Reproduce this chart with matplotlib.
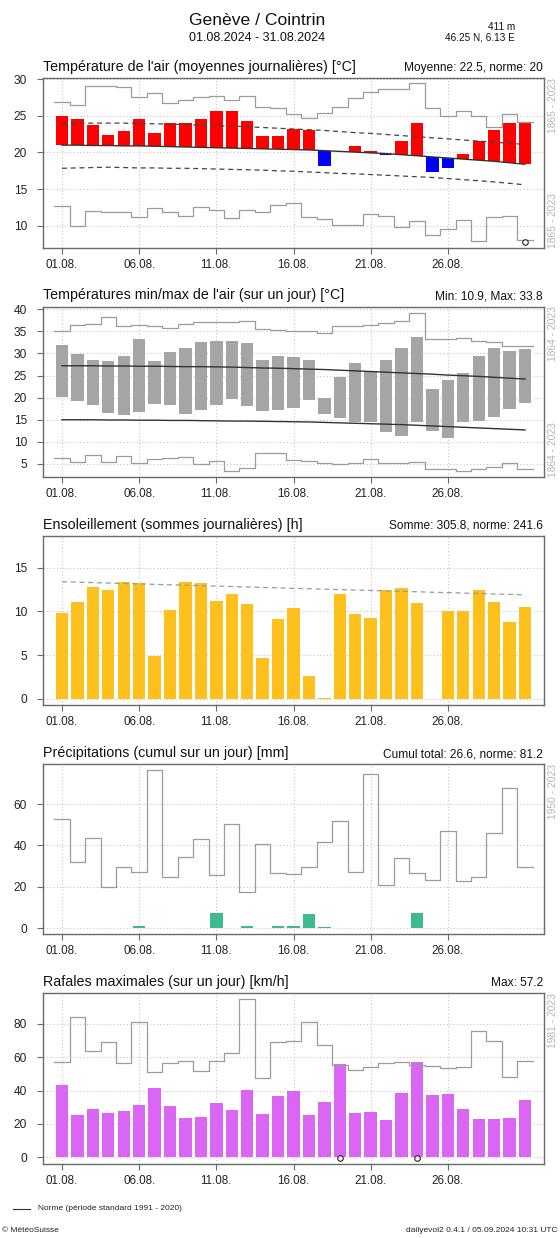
import numpy as np
import matplotlib
matplotlib.use("Agg")
import matplotlib.pyplot as plt
from matplotlib.lines import Line2D
from matplotlib.transforms import blended_transform_factory

plt.rcParams['font.family'] = ['Liberation Sans', 'DejaVu Sans']

# ---------------------------------------------------------------- data
days = np.arange(1, 32)
tick_days = [1, 6, 11, 16, 21, 26]
tick_labels = ["01.08.", "06.08.", "11.08.", "16.08.", "21.08.", "26.08."]

# daily mean air temperature [°C]
temp_mean = [24.9, 24.6, 23.7, 22.4, 22.9, 24.6, 22.7, 24.0, 24.0, 24.6, 25.7,
             25.6, 24.3, 22.2, 22.3, 23.2, 23.1, 18.1, 20.15, 20.9, 20.25, 19.6,
             21.6, 24.05, 17.3, 17.9, 19.75, 21.6, 23.1, 24.0, 24.2]
temp_norm = [21.0, 21.0, 20.95, 20.95, 20.9, 20.9, 20.85, 20.8, 20.75, 20.7, 20.65,
             20.6, 20.55, 20.5, 20.45, 20.4, 20.35, 20.25, 20.15, 20.05, 19.95, 19.85,
             19.7, 19.55, 19.4, 19.25, 19.1, 18.95, 18.8, 18.6, 18.4]
temp_norm_hi = [24.0, 24.0, 24.0, 24.0, 24.0, 23.95, 23.9, 23.85, 23.8, 23.7, 23.65,
                23.6, 23.5, 23.4, 23.3, 23.2, 23.1, 23.0, 22.85, 22.7, 22.6, 22.45,
                22.3, 22.15, 22.0, 21.85, 21.7, 21.55, 21.4, 21.25, 21.1]
temp_norm_lo = [17.85, 17.9, 17.95, 18.0, 17.95, 17.9, 17.9, 17.85, 17.85, 17.8, 17.75,
                17.7, 17.65, 17.6, 17.5, 17.45, 17.35, 17.25, 17.15, 17.1, 17.0, 16.9,
                16.8, 16.7, 16.6, 16.45, 16.3, 16.15, 16.0, 15.8, 15.6]
temp_rec_max = [26.9, 26.4, 29.0, 29.05, 28.9, 27.55, 28.15, 26.8, 27.15, 27.5, 27.7,
                27.15, 27.75, 26.25, 26.05, 25.3, 24.7, 25.4, 26.2, 27.45, 28.2, 28.6,
                28.7, 29.4, 26.0, 24.9, 25.65, 25.0, 23.5, 25.3, 24.2]
temp_rec_min = [12.7, 10.05, 12.05, 11.95, 11.85, 11.2, 12.4, 11.95, 11.35, 12.6, 12.15,
                11.15, 12.15, 11.95, 12.85, 13.1, 11.2, 10.95, 10.15, 10.15, 11.6, 11.3,
                9.9, 10.7, 8.8, 9.6, 10.8, 8.0, 11.2, 11.3, 8.1]
temp_record_days = [31]

# daily min / max air temperature [°C]
tmax = [31.9, 29.9, 28.5, 28.2, 29.3, 33.2, 28.2, 30.4, 31.3, 32.5, 32.7, 32.9, 32.3,
        28.5, 29.4, 29.1, 28.5, 19.9, 24.6, 27.9, 25.7, 28.5, 31.3, 33.8, 21.9, 23.9,
        25.5, 29.5, 31.3, 30.6, 31.0]
tmin = [20.1, 19.3, 18.4, 16.5, 16.1, 16.8, 18.6, 18.4, 16.3, 17.1, 18.4, 19.6, 18.1,
        17.0, 17.3, 17.6, 19.5, 16.2, 15.3, 14.6, 14.4, 12.3, 11.4, 14.6, 12.5, 10.9,
        14.4, 14.8, 15.7, 17.4, 18.9]
tmax_norm = [27.2, 27.2, 27.2, 27.15, 27.15, 27.1, 27.1, 27.05, 27.0, 27.0, 26.95, 26.9,
             26.8, 26.7, 26.65, 26.55, 26.45, 26.35, 26.2, 26.05, 25.9, 25.75, 25.6,
             25.45, 25.3, 25.1, 24.95, 24.8, 24.6, 24.4, 24.2]
tmin_norm = [15.0, 15.0, 15.0, 14.95, 14.95, 14.9, 14.9, 14.85, 14.85, 14.8, 14.75, 14.7,
             14.7, 14.65, 14.6, 14.55, 14.5, 14.4, 14.3, 14.2, 14.1, 14.0, 13.9, 13.75,
             13.6, 13.45, 13.3, 13.15, 13.0, 12.85, 12.7]
tmax_rec = [34.95, 36.45, 36.7, 38.2, 36.2, 36.45, 36.1, 35.7, 36.6, 37.05, 37.2, 37.0,
            37.4, 35.55, 35.3, 34.95, 34.95, 34.7, 36.2, 36.2, 36.45, 36.8, 37.4, 39.1,
            33.2, 33.2, 33.4, 32.9, 32.5, 31.7, 31.7]
tmin_rec = [6.3, 5.55, 7.05, 5.55, 6.8, 5.3, 6.05, 6.3, 6.65, 5.0, 5.75, 3.5, 4.0, 7.4,
            7.4, 5.9, 5.7, 5.3, 5.0, 5.3, 6.1, 5.3, 5.3, 5.55, 3.9, 3.9, 3.5, 3.9, 4.4,
            5.15, 3.8]

# daily sunshine duration [h]
sunshine = [9.8, 11.1, 12.8, 12.5, 13.4, 13.2, 4.95, 10.2, 13.4, 13.3, 11.2, 12.0, 10.9,
            4.65, 9.15, 10.4, 2.65, 0.1, 12.0, 9.75, 9.3, 12.5, 12.7, 11.0, 0.0, 10.0,
            10.1, 12.4, 11.05, 8.75, 10.5]
sun_norm = [13.4, 13.35, 13.3, 13.25, 13.2, 13.15, 13.1, 13.05, 13.0, 12.95, 12.9, 12.85,
            12.8, 12.75, 12.7, 12.65, 12.6, 12.55, 12.5, 12.45, 12.4, 12.35, 12.3, 12.25,
            12.2, 12.15, 12.1, 12.05, 12.0, 11.95, 11.9]

# daily precipitation [mm]
precip = [0, 0, 0, 0, 0, 0.9, 0, 0, 0, 0, 7.5, 0, 1.2, 0, 1.2, 1.2, 7.0, 0.4, 0, 0, 0,
          0, 0, 7.2, 0, 0, 0, 0, 0, 0, 0]
precip_rec = [52.8, 32.2, 43.75, 20.1, 29.75, 27.0, 76.4, 24.6, 34.25, 42.95, 25.7, 50.2,
              17.7, 40.5, 26.5, 26.1, 29.4, 41.5, 51.95, 27.3, 74.3, 20.9, 33.8, 26.5,
              23.3, 47.0, 23.0, 24.6, 46.2, 67.9, 29.4]

# daily maximum gusts [km/h]
gusts = [43.3, 25.3, 28.9, 26.5, 27.9, 31.3, 41.7, 30.5, 23.7, 24.3, 32.7, 28.5, 40.3,
         25.9, 36.8, 39.7, 25.3, 32.9, 55.9, 26.7, 26.9, 22.3, 38.5, 57.2, 37.3, 37.9,
         28.9, 22.7, 22.7, 23.3, 34.3]
gusts_rec = [57.3, 84.2, 63.6, 69.2, 56.3, 80.8, 51.3, 56.3, 57.9, 51.9, 57.7, 62.2,
             94.6, 47.3, 69.2, 69.8, 80.8, 67.2, 55.3, 52.3, 53.9, 56.7, 57.3, 55.3,
             54.7, 53.3, 54.3, 75.6, 69.6, 48.3, 57.7]
gust_record_days = [19, 24]

# ---------------------------------------------------------------- layout
W, H, DPI = 560, 1238, 100
fig = plt.figure(figsize=(W / DPI, H / DPI), dpi=DPI)
fig.patch.set_facecolor('white')

LEFT, RIGHT = 43, 544
GRID_C = '#c6c6c6'
FRAME_C = '#6a6a6a'
STEP_C = '#9c9c9c'
NORM_C = '#333333'


def fx(x):
    return x / W


def fy(y):
    return 1 - y / H


def panel(top, bottom):
    return fig.add_axes([fx(LEFT), fy(bottom), (RIGHT - LEFT) / W, (bottom - top) / H])


def style(ax, ylim, yticks):
    ax.set_xlim(-0.23, 32.23)
    ax.set_ylim(*ylim)
    ax.set_xticks(tick_days)
    ax.set_xticklabels(tick_labels)
    ax.set_yticks(yticks)
    ax.grid(True, color=GRID_C, linestyle=(0, (1, 2)), linewidth=0.8)
    ax.set_axisbelow(True)
    for s in ax.spines.values():
        s.set_color(FRAME_C)
        s.set_linewidth(1.0)
    ax.tick_params(axis='both', direction='out', length=4, width=0.8,
                   color=FRAME_C, labelcolor='#222222')
    ax.tick_params(axis='y', labelsize=8.6, pad=7.5)
    ax.tick_params(axis='x', labelsize=8.4, pad=4)


def step_line(ax, vals, **kw):
    xs = np.column_stack([days - 0.5, days + 0.5]).ravel()
    ys = np.repeat(np.asarray(vals, dtype=float), 2)
    ax.plot(xs, ys, **kw)


def header(top, title, stats):
    fig.text(fx(LEFT), fy(top - 7), title, fontsize=10.3, ha='left', va='baseline',
             color='#111111')
    fig.text(fx(RIGHT - 1), fy(top - 7), stats, fontsize=8.6, ha='right',
             va='baseline', color='#111111')


def period(top, bottom, text, where):
    if where == 'top':
        fig.text(fx(553), fy(top), text, rotation=90, ha='center', va='top',
                 fontsize=7.4, color='#b4b4b4')
    else:
        fig.text(fx(553), fy(bottom), text, rotation=90, ha='center', va='bottom',
                 fontsize=7.4, color='#b4b4b4')


def record_marks(ax, rec_days):
    tr = blended_transform_factory(ax.transData, ax.transAxes)
    ax.scatter(rec_days, [0.035] * len(rec_days), transform=tr, s=16, marker='o',
               facecolor='white', edgecolor='#222222', linewidth=0.8, clip_on=False,
               zorder=6)


BAR_W = 0.8

# ---------------------------------------------------------------- main title
fig.text(fx(257), fy(25), "Genève / Cointrin", fontsize=12.6, ha='center',
         va='baseline', color='#111111')
fig.text(fx(257), fy(41), "01.08.2024 - 31.08.2024", fontsize=9, ha='center',
         va='baseline', color='#111111')
fig.text(fx(515), fy(30), "411 m", fontsize=7.2, ha='right', va='baseline',
         color='#111111')
fig.text(fx(515), fy(40), "46.25 N, 6.13 E", fontsize=7.2, ha='right', va='baseline',
         color='#111111')

# ---------------------------------------------------------------- panel 1
t1, b1 = 78, 248
ax1 = panel(t1, b1)
style(ax1, (7.0, 30.14), [10, 15, 20, 25, 30])
tm = np.asarray(temp_mean)
tn = np.asarray(temp_norm)
cols = np.where(tm >= tn, '#ff0000', '#0000ff')
ax1.bar(days, tm - tn, bottom=tn, width=BAR_W, color=cols, zorder=2)
ax1.plot(days, temp_norm, color=NORM_C, lw=1.0, zorder=3)
ax1.plot(days, temp_norm_hi, color='#444444', lw=0.9, ls=(0, (4, 3)), zorder=3)
ax1.plot(days, temp_norm_lo, color='#444444', lw=0.9, ls=(0, (4, 3)), zorder=3)
step_line(ax1, temp_rec_max, color=STEP_C, lw=0.9, zorder=3)
step_line(ax1, temp_rec_min, color=STEP_C, lw=0.9, zorder=3)
record_marks(ax1, temp_record_days)
header(t1, "Température de l'air (moyennes journalières) [°C]",
       "Moyenne: 22.5, norme: 20")
period(t1, b1, "1865 - 2023", 'top')
period(t1, b1, "1865 - 2023", 'bottom')

# ---------------------------------------------------------------- panel 2
t2, b2 = 306.5, 477
ax2 = panel(t2, b2)
style(ax2, (2.06, 40.6), [5, 10, 15, 20, 25, 30, 35, 40])
ax2.bar(days, np.asarray(tmax) - np.asarray(tmin), bottom=tmin, width=BAR_W,
        color='#a5a5a5', zorder=2)
ax2.plot(days, tmax_norm, color=NORM_C, lw=1.0, zorder=3)
ax2.plot(days, tmin_norm, color=NORM_C, lw=1.0, zorder=3)
step_line(ax2, tmax_rec, color=STEP_C, lw=0.9, zorder=3)
step_line(ax2, tmin_rec, color=STEP_C, lw=0.9, zorder=3)
header(t2, "Températures min/max de l'air (sur un jour) [°C]", "Min: 10.9, Max: 33.8")
period(t2, b2, "1864 - 2023", 'top')
period(t2, b2, "1864 - 2023", 'bottom')

# ---------------------------------------------------------------- panel 3
t3, b3 = 535.7, 705
ax3 = panel(t3, b3)
style(ax3, (-0.69, 18.66), [0, 5, 10, 15])
ax3.bar(days, sunshine, width=BAR_W, color='#fdc01c', zorder=2)
ax3.plot(days, sun_norm, color='#9a9a9a', lw=0.9, ls=(0, (4, 3)), zorder=3)
header(t3, "Ensoleillement (sommes journalières) [h]", "Somme: 305.8, norme: 241.6")

# ---------------------------------------------------------------- panel 4
t4, b4 = 764.3, 934.3
ax4 = panel(t4, b4)
style(ax4, (-2.9, 79.2), [0, 20, 40, 60])
ax4.bar(days, precip, width=BAR_W, color='#3dba8e', zorder=2)
step_line(ax4, precip_rec, color=STEP_C, lw=0.9, zorder=3)
header(t4, "Précipitations (cumul sur un jour) [mm]", "Cumul total: 26.6, norme: 81.2")
period(t4, b4, "1950 - 2023", 'top')

# ---------------------------------------------------------------- panel 5
t5, b5 = 993.3, 1164
ax5 = panel(t5, b5)
style(ax5, (-4.0, 98.2), [0, 20, 40, 60, 80])
ax5.bar(days, gusts, width=BAR_W, color='#dc66f4', zorder=2)
step_line(ax5, gusts_rec, color=STEP_C, lw=0.9, zorder=3)
record_marks(ax5, gust_record_days)
header(t5, "Rafales maximales (sur un jour) [km/h]", "Max: 57.2")
period(t5, b5, "1981 - 2023", 'top')

# ---------------------------------------------------------------- footer
fig.add_artist(Line2D([fx(13), fx(30)], [fy(1209), fy(1209)], color='#333333', lw=0.8))
fig.text(fx(38), fy(1209), "Norme (période standard 1991 - 2020)", fontsize=6,
         ha='left', va='center', color='#222222')
fig.text(fx(2), fy(1231), "© MétéoSuisse", fontsize=6, ha='left', va='center',
         color='#222222')
fig.text(fx(558), fy(1231), "dailyevol2 0.4.1 / 05.09.2024 10:31 UTC", fontsize=6,
         ha='right', va='center', color='#222222')

fig.savefig("out.png", dpi=DPI)
